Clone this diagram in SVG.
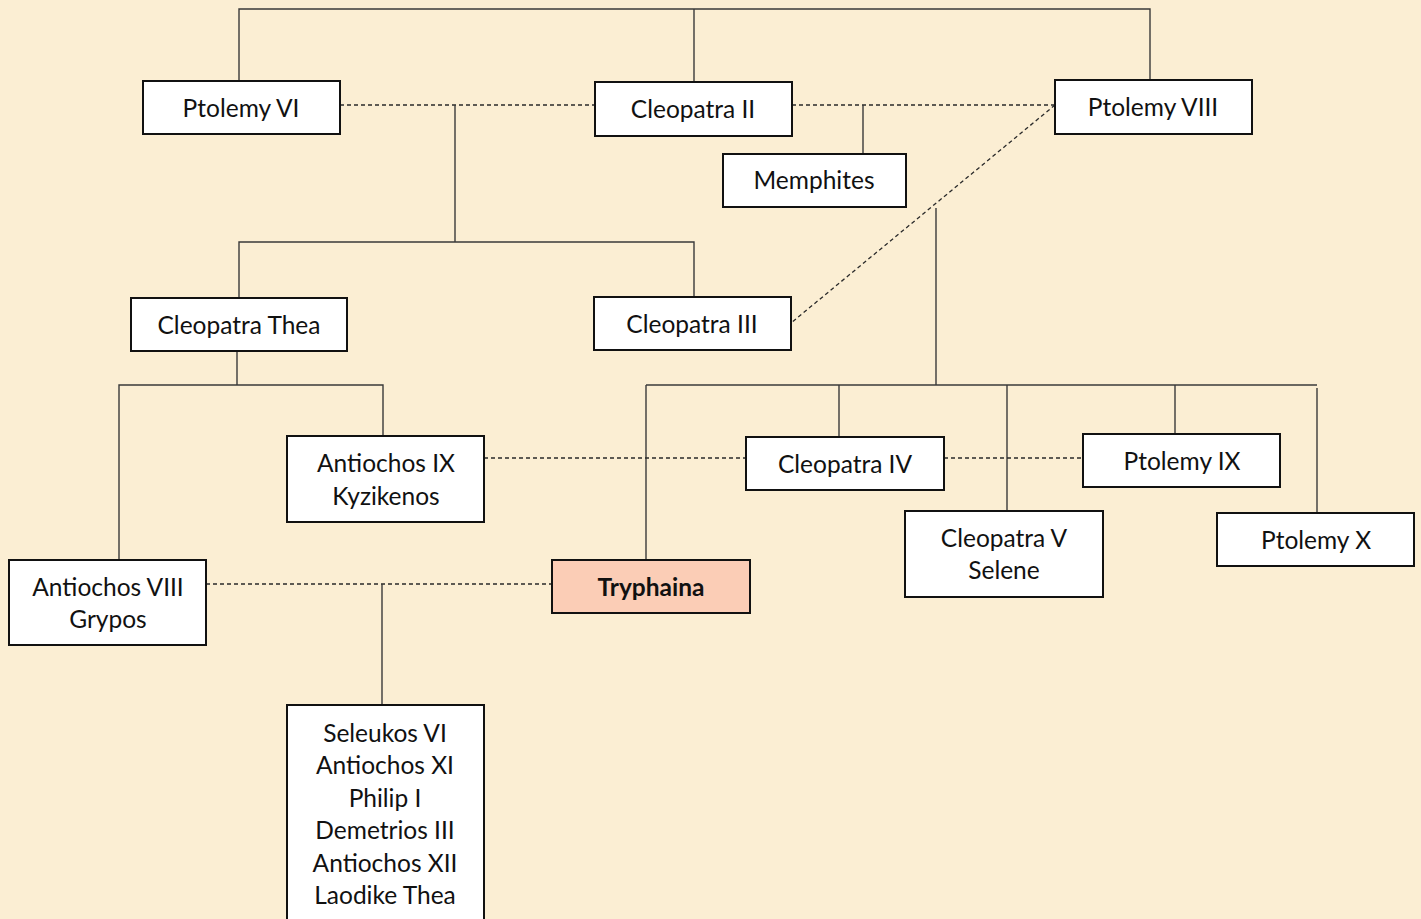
<svg xmlns="http://www.w3.org/2000/svg" width="1421" height="919" viewBox="0 0 1421 919">
<defs>
<style>
.bg{fill:#FBEED3}
.box{fill:#fff;stroke:#111;stroke-width:2}
.hl{fill:#FBCDB6}
.t{font-family:Lato,"Open Sans",sans-serif;font-size:24.5px;fill:#111;text-anchor:middle}
.b{font-weight:bold}
.ln{stroke:#3a3a3a;stroke-width:1.4;fill:none}
.ds{stroke:#2a2a2a;stroke-width:1.3;fill:none;stroke-dasharray:4 3}
</style>
</defs>
<rect class="bg" x="0" y="0" width="1421" height="919"/>
<g id="connectors">
<polyline class="ln" points="239,81 239,9 1150,9 1150,80"/>
<line class="ln" x1="694" y1="9" x2="694" y2="82"/>
<line class="ds" x1="340" y1="105" x2="595" y2="105"/>
<line class="ln" x1="455" y1="105" x2="455" y2="242"/>
<polyline class="ln" points="239,298 239,242 694,242 694,297"/>
<line class="ds" x1="792" y1="105" x2="1055" y2="105"/>
<line class="ln" x1="863" y1="105" x2="863" y2="154"/>
<line class="ds" x1="1055" y1="105" x2="791" y2="323"/>
<line class="ln" x1="936" y1="208" x2="936" y2="385"/>
<line class="ln" x1="646" y1="385" x2="1317" y2="385"/>
<line class="ln" x1="646" y1="385" x2="646" y2="560"/>
<line class="ln" x1="839" y1="385" x2="839" y2="437"/>
<line class="ln" x1="1007" y1="385" x2="1007" y2="511"/>
<line class="ln" x1="1175" y1="385" x2="1175" y2="434"/>
<line class="ln" x1="1317" y1="388" x2="1317" y2="513"/>
<line class="ln" x1="237" y1="351" x2="237" y2="385"/>
<polyline class="ln" points="119,560 119,385 383,385 383,436"/>
<line class="ds" x1="484" y1="458" x2="746" y2="458"/>
<line class="ds" x1="944" y1="458" x2="1083" y2="458"/>
<line class="ds" x1="206" y1="584" x2="552" y2="584"/>
<line class="ln" x1="382" y1="584" x2="382" y2="705"/>
</g>
<g id="ptolemy6"><rect class="box" x="143" y="81" width="197" height="53"/><text class="t" x="241" y="117">Ptolemy VI</text></g>
<g id="cleopatra2"><rect class="box" x="595" y="82" width="197" height="54"/><text class="t" x="693" y="118">Cleopatra II</text></g>
<g id="ptolemy8"><rect class="box" x="1055" y="80" width="197" height="54"/><text class="t" x="1153" y="116">Ptolemy VIII</text></g>
<g id="memphites"><rect class="box" x="723" y="154" width="183" height="53"/><text class="t" x="814" y="189">Memphites</text></g>
<g id="cleopatraThea"><rect class="box" x="131" y="298" width="216" height="53"/><text class="t" x="239" y="334">Cleopatra Thea</text></g>
<g id="cleopatra3"><rect class="box" x="594" y="297" width="197" height="53"/><text class="t" x="692" y="333">Cleopatra III</text></g>
<g id="antiochos9"><rect class="box" x="287" y="436" width="197" height="86"/><text class="t" x="386" y="472">Antiochos IX</text><text class="t" x="386" y="505">Kyzikenos</text></g>
<g id="cleopatra4"><rect class="box" x="746" y="437" width="198" height="53"/><text class="t" x="845" y="473">Cleopatra IV</text></g>
<g id="ptolemy9"><rect class="box" x="1083" y="434" width="197" height="53"/><text class="t" x="1182" y="470">Ptolemy IX</text></g>
<g id="cleopatra5"><rect class="box" x="905" y="511" width="198" height="86"/><text class="t" x="1004" y="547">Cleopatra V</text><text class="t" x="1004" y="579">Selene</text></g>
<g id="ptolemy10"><rect class="box" x="1217" y="513" width="197" height="53"/><text class="t" x="1316" y="549">Ptolemy X</text></g>
<g id="antiochos8"><rect class="box" x="9" y="560" width="197" height="85"/><text class="t" x="108" y="596">Antiochos VIII</text><text class="t" x="108" y="628">Grypos</text></g>
<g id="tryphaina"><rect class="box hl" x="552" y="560" width="198" height="53"/><text class="t b" x="651" y="596">Tryphaina</text></g>
<g id="children"><rect class="box" x="287" y="705" width="197" height="220"/>
<text class="t" x="385" y="742">Seleukos VI</text>
<text class="t" x="385" y="774">Antiochos XI</text>
<text class="t" x="385" y="807">Philip I</text>
<text class="t" x="385" y="839">Demetrios III</text>
<text class="t" x="385" y="872">Antiochos XII</text>
<text class="t" x="385" y="904">Laodike Thea</text>
</g>
</svg>
